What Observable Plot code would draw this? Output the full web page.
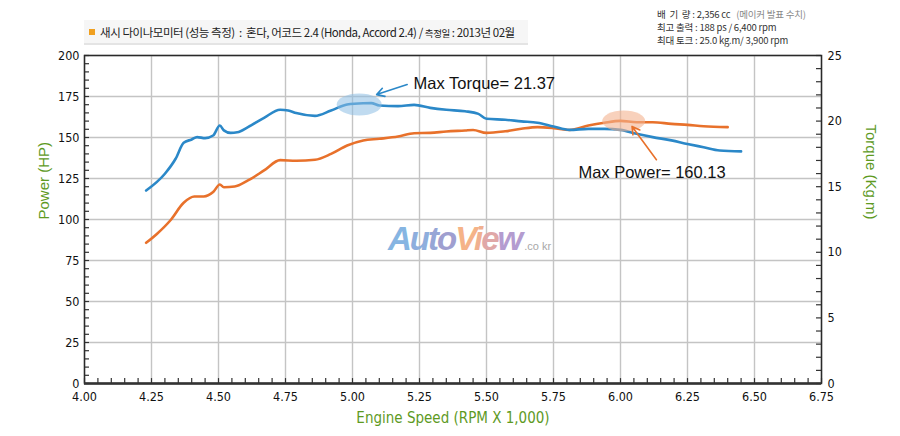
<!DOCTYPE html>
<html>
<head>
<meta charset="utf-8">
<script src="https://cdn.jsdelivr.net/npm/d3@7"></script>
<script src="https://cdn.jsdelivr.net/npm/@observablehq/plot@0.6"></script>
<style>
  html, body { margin: 0; padding: 0; background: #fff; }
  #fg { position: absolute; left: 0; top: 0; }
  #band { position: absolute; left: 84px; top: 20px; width: 444px; height: 23px;
          background: #f6f6f6; border-bottom: 2px solid #e4e4e4; }
  #title { position: absolute; left: 89px; top: 24px; font-family: "Noto Sans CJK KR", "Noto Sans", sans-serif;
           font-size: 11.5px; color: #222; white-space: nowrap; letter-spacing: -0.45px; }
  #title .sq { display: inline-block; width: 6px; height: 6px; background: #f0a020; margin-right: 5px; vertical-align: 2px; }
  #title .sm { font-size: 9.5px; }
  #info { position: absolute; left: 657px; top: 8px; font-family: "Noto Sans CJK KR", "Noto Sans", sans-serif;
          font-size: 9.5px; line-height: 13px; color: #333; white-space: nowrap; letter-spacing: -0.2px; }
  #info .lt { color: #888; }
  #wm { position: absolute; left: 388px; top: 220px; white-space: nowrap;
        font-family: "Liberation Sans", Arial, sans-serif; font-weight: bold; font-style: italic; font-size: 33px; letter-spacing: -2px; }
  #wm .c { font-size: 11px; color: #a8a8a8; font-style: normal; font-weight: normal; letter-spacing: 0; margin-left: 3px; }
</style>
</head>
<body>
<div id="bg"></div>
<div id="band"></div>
<div id="title"><span class="sq"></span>새시 다이나모미터 (성능 측정) &nbsp;:&nbsp; 혼다, 어코드 2.4 (Honda, Accord 2.4) / <span class="sm">측정일</span> : 2013년 02월</div>
<div id="info">
  <div>배&nbsp; 기&nbsp; 량 : 2,356 cc &nbsp; <span class="lt">(메이커 발표 수치)</span></div>
  <div>최고 출력 : 188 ps / 6,400 rpm</div>
  <div>최대 토크 : 25.0 kg.m/ 3,900 rpm</div>
</div>
<div id="wm"><span style="color:#86b5e2">A</span><span style="color:#8eaedd">u</span><span style="color:#97a6d6">t</span><span style="color:#9f9fd0">o</span><span style="color:#f5b388">V</span><span style="color:#f0b090">i</span><span style="color:#e0a8a8">e</span><span style="color:#b49cd0">w</span><span class="c">.co kr</span></div>
<div id="fg"></div>
<script>
// ---- data ----
const powerRpm = [4.23,4.27,4.32,4.37,4.41,4.445,4.48,4.505,4.52,4.56,4.61,4.67,4.73,4.79,4.86,4.92,4.98,5.04,5.10,5.17,5.23,5.29,5.35,5.42,5.45,5.50,5.57,5.63,5.69,5.75,5.81,5.88,5.94,6.00,6.06,6.12,6.19,6.25,6.31,6.40];
const powerHp  = [85.8,91.2,99.4,110.2,114.0,114.0,116.7,121.3,119.7,120.1,123.8,129.9,136.2,135.8,136.4,140.0,145.1,148.2,149.2,150.6,152.6,152.8,153.7,154.3,154.6,152.8,153.8,155.3,156.3,155.7,154.6,157.3,159.0,160.13,159.3,159.3,158.3,157.7,156.9,156.3];
const torqueRpm = [4.23,4.30,4.34,4.37,4.40,4.42,4.45,4.48,4.505,4.52,4.545,4.57,4.61,4.67,4.73,4.76,4.79,4.86,4.92,4.98,5.04,5.07,5.10,5.17,5.23,5.29,5.35,5.42,5.47,5.50,5.57,5.63,5.69,5.75,5.81,5.88,5.94,6.00,6.06,6.12,6.19,6.25,6.31,6.37,6.45];
const torqueKgm = [14.71,15.99,17.13,18.35,18.60,18.78,18.70,18.90,19.66,19.29,19.10,19.15,19.54,20.25,20.86,20.81,20.61,20.40,20.81,21.26,21.36,21.37,21.19,21.14,21.24,21.01,20.86,20.75,20.55,20.18,20.10,19.98,19.88,19.59,19.33,19.41,19.41,19.33,19.03,18.78,18.53,18.26,18.01,17.76,17.69];
const xTicks = [4.00,4.25,4.50,4.75,5.00,5.25,5.50,5.75,6.00,6.25,6.50,6.75];
const powerTicks = [0,25,50,75,100,125,150,175,200];
const torqueTicks = [0,5,10,15,20,25];

// ---- derived ----
const K = d3.max(powerTicks) / d3.max(torqueTicks); // HP per kg.m on the shared vertical scale
const power = powerRpm.map((x, i) => ({x, y: powerHp[i]}));
const torque = torqueRpm.map((x, i) => ({x, y: torqueKgm[i] * K, v: torqueKgm[i]}));
const tPeak = d3.greatest(torque, d => d.y);
const pPeak = d3.greatest(power, d => d.y);

const xmin = 4, xmax = 6.75, ymin = 0, ymax = 200, tickDx = 0.0187, tickDy = 3.0;
const xMinor = d3.range(xmin, xmax + 1e-4, 0.05);
const yMinor = d3.range(ymin, ymax + 0.01, 5);
const tMinor = d3.range(0, 25.01, 1).map(d => d * K);

const BLUE = "#2b88c8", ORANGE = "#e8712b", GREEN = "#5e9a1f", GRID = "#c4c4c4", INK = "#333";
const tickFont = "'Liberation Sans Narrow','DejaVu Sans Condensed','Roboto',sans-serif";
const layout = {width: 900, height: 436, marginTop: 55, marginBottom: 53, marginLeft: 84, marginRight: 79};

// ---- background: grid, ticks, axes, frame ----
const bg = Plot.plot({
  ...layout,
  x: {domain: [xmin, xmax]},
  y: {domain: [ymin, ymax]},
  style: {fontFamily: tickFont, fontSize: "12.5px", color: "#111", overflow: "visible"},
  marks: [
    Plot.ruleX(xTicks, {x: d => d, stroke: GRID, strokeWidth: 1.4}),
    Plot.ruleY(powerTicks, {y: d => d, stroke: GRID, strokeWidth: 1.4}),
    Plot.axisX(xTicks, {tickSize: 0, tickPadding: 9, tickFormat: d3.format(".2f"), label: null}),
    Plot.axisY(powerTicks, {anchor: "left", tickSize: 0, tickPadding: 5, label: null}),
    Plot.axisY(torqueTicks.map(t => t * K), {anchor: "right", tickSize: 0, tickPadding: 6, label: null, tickFormat: d => d / K}),
    Plot.ruleX(xMinor, {x: d => d, y1: ymin, y2: ymin + tickDy, stroke: INK, strokeWidth: 1.2}),
    Plot.ruleY(yMinor, {y: d => d, x1: xmin, x2: xmin + tickDx, stroke: INK, strokeWidth: 1.2}),
    Plot.ruleY(tMinor, {y: d => d, x1: xmax - tickDx, x2: xmax, stroke: INK, strokeWidth: 1.2}),
    Plot.frame({stroke: "#2a2a2a", strokeWidth: 1.5}),
    Plot.ruleY([ymin], {stroke: INK, strokeWidth: 2.6})
  ]
});
document.getElementById("bg").appendChild(bg);

// ---- foreground: curves and annotations ----
const ellipse = {
  draw(ctx, size) {
    const r = Math.sqrt(size / Math.PI), a = 2.05 * r, b = r, k = 0.5523;
    ctx.moveTo(a, 0);
    ctx.bezierCurveTo(a, b * k, a * k, b, 0, b);
    ctx.bezierCurveTo(-a * k, b, -a, b * k, -a, 0);
    ctx.bezierCurveTo(-a, -b * k, -a * k, -b, 0, -b);
    ctx.bezierCurveTo(a * k, -b, a, -b * k, a, 0);
    ctx.closePath();
  }
};
const sans = "'Liberation Sans',Arial,sans-serif";
const fg = Plot.plot({
  ...layout,
  x: {domain: [xmin, xmax], axis: null},
  y: {domain: [ymin, ymax], axis: null},
  style: {fontFamily: sans, background: "transparent", overflow: "visible"},
  marks: [
    Plot.line(power, {x: "x", y: "y", stroke: ORANGE, strokeWidth: 2.6, curve: "monotone-x"}),
    Plot.line(torque, {x: "x", y: "y", stroke: BLUE, strokeWidth: 2.6, curve: "monotone-x"}),
    Plot.dot([tPeak], {x: d => d.x - 0.045, y: d => d.y - 0.8, r: 11, symbol: ellipse, fill: "#8dbde3", fillOpacity: 0.55, stroke: "none"}),
    Plot.dot([pPeak], {x: d => d.x + 0.012, y: d => d.y, r: 10.5, symbol: ellipse, fill: "#f4b28f", fillOpacity: 0.6, stroke: "none"}),
    Plot.arrow([tPeak], {x1: d => d.x + 0.134, y1: d => d.y + 11.3, x2: d => d.x + 0.02, y2: d => d.y + 5.2, stroke: BLUE, strokeWidth: 1.6, headLength: 8}),
    Plot.arrow([pPeak], {x1: d => d.x + 0.134, y1: d => d.y - 23.7, x2: d => d.x + 0.043, y2: d => d.y - 3.4, stroke: ORANGE, strokeWidth: 1.6, headLength: 8}),
    Plot.text([tPeak], {x: d => d.x + 0.158, y: d => d.y + 11.9, text: d => `Max Torque= ${d.v.toFixed(2)}`, textAnchor: "start", fontSize: 16.5, fill: "#111"}),
    Plot.text([pPeak], {x: d => d.x - 0.157, y: d => d.y - 31.4, text: d => `Max Power= ${d.y.toFixed(2)}`, textAnchor: "start", fontSize: 16.5, fill: "#111"}),
    Plot.text(["Power (HP)"], {frameAnchor: "left", dx: -40, rotate: -90, fill: GREEN, fontSize: 15}),
    Plot.text(["Torque (Kg.m)"], {frameAnchor: "right", dx: 49, rotate: 90, fill: GREEN, fontSize: 15}),
    Plot.text(["Engine Speed (RPM X 1,000)"], {frameAnchor: "bottom", dy: 39, fill: GREEN, fontSize: 15, fontFamily: tickFont})
  ]
});
document.getElementById("fg").appendChild(fg);
</script>
</body>
</html>
